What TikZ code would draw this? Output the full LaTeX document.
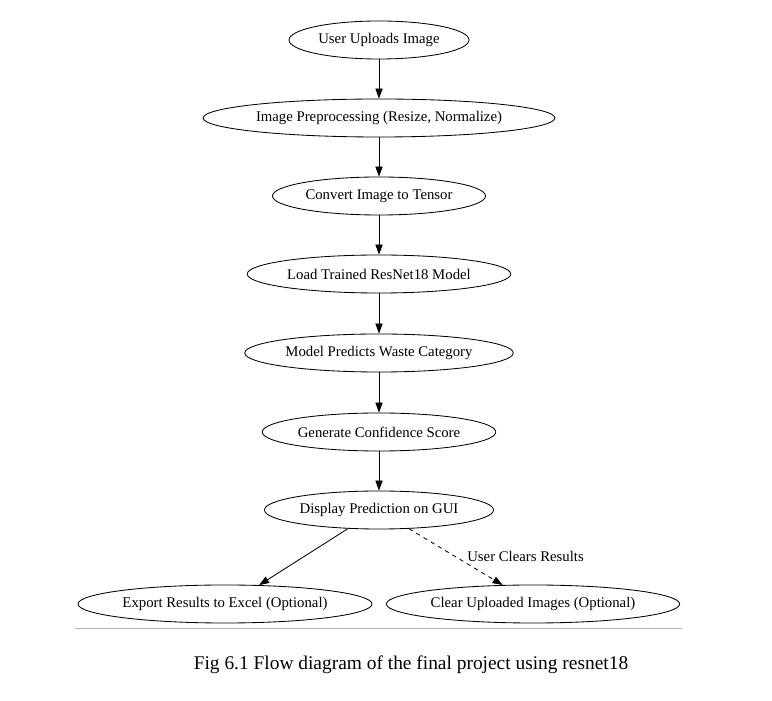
\documentclass[tikz,border=0pt]{standalone}
\usepackage{fontspec}
\setmainfont{Liberation Serif}
\usetikzlibrary{shapes.geometric,arrows.meta}
\begin{document}
\begin{tikzpicture}[
x=0.025cm, y=-0.025cm,
step node/.style={draw, ellipse, line width=0.6pt, minimum height=0.95cm,
inner sep=1pt, font=\fontsize{10.5}{12}\selectfont},
edge/.style={-{Triangle[length=0.25cm, width=0.18cm]}, line width=0.6pt}
]
\useasboundingbox (0,0) rectangle (772,701);
\node[step node, minimum width=4.5cm] (upload) at (379,40) {User Uploads Image};
\node[step node, minimum width=8.625cm] (prep) at (379,118) {Image Preprocessing (Resize, Normalize)};
\node[step node, minimum width=5.325cm] (tensor) at (379,196) {Convert Image to Tensor};
\node[step node, minimum width=6.525cm] (model) at (379,274) {Load Trained ResNet18 Model};
\node[step node, minimum width=6.675cm] (predict) at (379,353) {Model Predicts Waste Category};
\node[step node, minimum width=5.775cm] (score) at (379,432) {Generate Confidence Score};
\node[step node, minimum width=5.725cm] (gui) at (379,510) {Display Prediction on GUI};
\node[step node, minimum width=7.25cm] (export) at (225,604) {Export Results to Excel (Optional)};
\node[step node, minimum width=7.25cm] (clear) at (533,604) {Clear Uploaded Images (Optional)};

\draw[edge] (upload) -- (prep);
\draw[edge] (prep) -- (tensor);
\draw[edge] (tensor) -- (model);
\draw[edge] (model) -- (predict);
\draw[edge] (predict) -- (score);
\draw[edge] (score) -- (gui);
\draw[edge] (gui.211) -- (export.29);
\draw[edge, dashed] (gui.328) -- (clear.148)
  node[pos=0.5, anchor=west, xshift=0.16cm, font=\fontsize{10.5}{12}\selectfont] {User Clears Results};

\coordinate (ruleL) at (75,628);
\coordinate (ruleR) at (682,628);
\draw[gray!60, line width=0.6pt] (ruleL) -- (ruleR);
\node[font=\fontsize{13.8}{16}\selectfont] (caption) at (411,665) {Fig 6.1 Flow diagram of the final project using resnet18};
\end{tikzpicture}
\end{document}
